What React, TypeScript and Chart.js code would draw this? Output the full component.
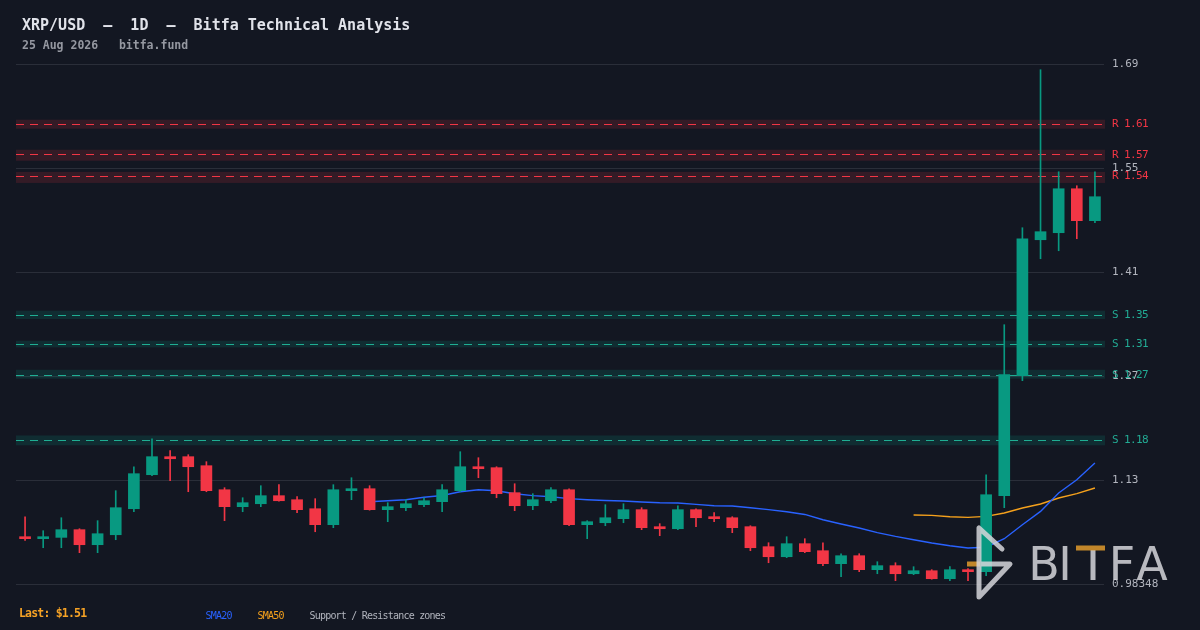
import { useEffect, useRef } from "react";
import { Chart, registerables } from "chart.js";

Chart.register(...registerables);

// ---------- DATA ----------
const CATEGORIES = [
  "Jun 27", "Jun 28", "Jun 29", "Jun 30",
  "Jul 1", "Jul 2", "Jul 3", "Jul 4", "Jul 5", "Jul 6", "Jul 7", "Jul 8", "Jul 9", "Jul 10",
  "Jul 11", "Jul 12", "Jul 13", "Jul 14", "Jul 15", "Jul 16", "Jul 17", "Jul 18", "Jul 19", "Jul 20",
  "Jul 21", "Jul 22", "Jul 23", "Jul 24", "Jul 25", "Jul 26", "Jul 27", "Jul 28", "Jul 29", "Jul 30", "Jul 31",
  "Aug 1", "Aug 2", "Aug 3", "Aug 4", "Aug 5", "Aug 6", "Aug 7", "Aug 8", "Aug 9", "Aug 10",
  "Aug 11", "Aug 12", "Aug 13", "Aug 14", "Aug 15", "Aug 16", "Aug 17", "Aug 18", "Aug 19", "Aug 20",
  "Aug 21", "Aug 22", "Aug 23", "Aug 24", "Aug 25",
];

const OPEN = [
  1.0480, 1.0453, 1.0471, 1.0576, 1.0371, 1.0507, 1.0862, 1.1326, 1.1572, 1.1572,
  1.1449, 1.1121, 1.0890, 1.0930, 1.1040, 1.0985, 1.0862, 1.0644, 1.1108, 1.1135,
  1.0849, 1.0876, 1.0917, 1.0958, 1.1108, 1.1435, 1.1422, 1.1081, 1.0903, 1.0971,
  1.1121, 1.0644, 1.0671, 1.0726, 1.0849, 1.0617, 1.0589, 1.0849, 1.0753, 1.0739,
  1.0617, 1.0344, 1.0207, 1.0385, 1.0289, 1.0112, 1.0221, 1.0030, 1.0085, 0.9975,
  1.0016, 0.9907, 1.0030, 1.0003, 1.1040, 1.2677, 1.4532, 1.4628, 1.5228, 1.4792,
];
const HIGH = [
  1.0753, 1.0562, 1.0739, 1.0589, 1.0699, 1.1108, 1.1435, 1.1817, 1.1654, 1.1599,
  1.1504, 1.1149, 1.1012, 1.1176, 1.1190, 1.1026, 1.0999, 1.1190, 1.1285, 1.1176,
  1.0944, 1.0985, 1.1012, 1.1190, 1.1640, 1.1558, 1.1435, 1.1203, 1.1067, 1.1149,
  1.1135, 1.0699, 1.0917, 1.0930, 1.0876, 1.0658, 1.0903, 1.0862, 1.0808, 1.0753,
  1.0630, 1.0398, 1.0480, 1.0453, 1.0398, 1.0248, 1.0248, 1.0139, 1.0125, 1.0071,
  1.0030, 1.0071, 1.0044, 1.1326, 1.3373, 1.4696, 1.6852, 1.5460, 1.5269, 1.5460,
];
const LOW = [
  1.0430, 1.0330, 1.0330, 1.0262, 1.0262, 1.0439, 1.0821, 1.1312, 1.1244, 1.1094,
  1.1094, 1.0699, 1.0821, 1.0890, 1.0965, 1.0808, 1.0548, 1.0603, 1.0985, 1.0842,
  1.0685, 1.0835, 1.0890, 1.0821, 1.1094, 1.1285, 1.1012, 1.0835, 1.0849, 1.0944,
  1.0630, 1.0453, 1.0630, 1.0671, 1.0576, 1.0494, 1.0576, 1.0617, 1.0685, 1.0535,
  1.0289, 1.0125, 1.0194, 1.0262, 1.0085, 0.9934, 1.0003, 0.9975, 0.9880, 0.9962,
  0.9900, 0.9880, 0.9880, 0.9948, 1.0876, 1.2609, 1.4273, 1.4382, 1.4546, 1.4764,
];
const CLOSE = [
  1.0453, 1.0480, 1.0576, 1.0371, 1.0521, 1.0876, 1.1340, 1.1572, 1.1544, 1.1435,
  1.1108, 1.0890, 1.0944, 1.1040, 1.0971, 1.0849, 1.0644, 1.1121, 1.1135, 1.0849,
  1.0890, 1.0930, 1.0971, 1.1121, 1.1435, 1.1408, 1.1067, 1.0903, 1.0985, 1.1121,
  1.0644, 1.0685, 1.0739, 1.0849, 1.0603, 1.0589, 1.0849, 1.0739, 1.0726, 1.0603,
  1.0330, 1.0207, 1.0385, 1.0276, 1.0112, 1.0221, 1.0030, 1.0085, 0.9975, 1.0016,
  0.9907, 1.0030, 1.0003, 1.1053, 1.2691, 1.4546, 1.4642, 1.5228, 1.4792, 1.5119,
];

// SMA20 starts at candle index 19, SMA50 at candle index 49
const SMA20_START = 19;
const SMA20 = [
  1.0958, 1.0971, 1.0985, 1.1019, 1.1043, 1.1094, 1.1121, 1.1108, 1.1067, 1.1040,
  1.1026, 1.0999, 1.0985, 1.0975, 1.0967, 1.0954, 1.0944, 1.0940, 1.0921, 1.0903,
  1.0899, 1.0876, 1.0849, 1.0821, 1.0784, 1.0712, 1.0653, 1.0599, 1.0535, 1.0484,
  1.0439, 1.0394, 1.0357, 1.0326, 1.0337, 1.0453, 1.0644, 1.0825, 1.1077, 1.1258, 1.1486,
];
const SMA50_START = 49;
const SMA50 = [1.0777, 1.0771, 1.0753, 1.0744, 1.0758, 1.0803, 1.0872, 1.0926, 1.1008, 1.1067, 1.1145];

const ZONE_KIND = ["R", "R", "R", "S", "S", "S", "S"];
const ZONE_LEVEL = [1.6115, 1.5697, 1.5402, 1.3509, 1.3114, 1.2691, 1.1804];
const ZONE_LOW = [1.6047, 1.5610, 1.5307, 1.3450, 1.3063, 1.2636, 1.1727];
const ZONE_HIGH = [1.6170, 1.5760, 1.5458, 1.3564, 1.3154, 1.2758, 1.1862];

const Y_MIN = 0.98348;
const Y_MAX = 1.693;
const TICK_LABELS = ["0.98348", "1.13", "1.27", "1.41", "1.55", "1.69"];

const TITLE = "XRP/USD  —  1D  —  Bitfa Technical Analysis";
const SUBTITLE = "25 Aug 2026   bitfa.fund";
const LEGEND_LABELS = ["SMA20", "SMA50", "Support / Resistance zones"];

// ---------- STYLE ----------
const BG = "#131722";
const UP = "#089981";
const DOWN = "#f23645";
const BLUE = "#2962ff";
const ORANGE = "#f5a11c";
const MONO = "'DejaVu Sans Mono', monospace";

function drawLogo(ctx: CanvasRenderingContext2D) {
  ctx.save();
  ctx.globalAlpha = 0.85;
  ctx.strokeStyle = "#e09a2c";
  ctx.lineWidth = 5;
  ctx.lineCap = "butt";
  ctx.beginPath();
  ctx.moveTo(967, 564);
  ctx.lineTo(980, 564);
  ctx.stroke();
  ctx.strokeStyle = "#d6d6da";
  ctx.lineCap = "round";
  ctx.lineJoin = "round";
  ctx.beginPath();
  ctx.moveTo(1002, 549);
  ctx.lineTo(979, 528);
  ctx.lineTo(979, 597);
  ctx.lineTo(1010, 564);
  ctx.lineTo(980, 564);
  ctx.stroke();
  ctx.fillStyle = "#d6d6da";
  ctx.font = "46px 'DejaVu Sans'";
  ctx.textAlign = "center";
  ctx.textBaseline = "alphabetic";
  const letters: [string, number][] = [["B", 1044], ["I", 1065], ["F", 1122], ["A", 1152]];
  letters.forEach(([ch, x]) => ctx.fillText(ch, x, 580));
  ctx.fillRect(1090.5, 550, 5, 30);
  ctx.fillStyle = "#e09a2c";
  ctx.fillRect(1076, 545.5, 29, 5);
  ctx.restore();
}

const overlayPlugin = {
  id: "overlay",
  beforeDatasetsDraw(chart: any) {
    const { ctx, chartArea: a, scales } = chart;
    const y = scales.y;
    ctx.save();
    ZONE_LEVEL.forEach((lvl, i) => {
      const isR = ZONE_KIND[i] === "R";
      const yt = y.getPixelForValue(ZONE_HIGH[i]);
      const yb = y.getPixelForValue(ZONE_LOW[i]);
      ctx.fillStyle = isR ? "rgba(242,54,69,0.15)" : "rgba(8,153,129,0.17)";
      ctx.fillRect(a.left, yt, a.right - a.left + 1, yb - yt);
      const yl = Math.round(y.getPixelForValue(lvl)) + 0.5;
      ctx.strokeStyle = isR ? DOWN : "#1fae93";
      ctx.lineWidth = 1;
      ctx.setLineDash([8, 6]);
      ctx.beginPath();
      ctx.moveTo(a.left, yl);
      ctx.lineTo(a.right, yl);
      ctx.stroke();
    });
    ctx.restore();
  },
  afterDatasetsDraw(chart: any) {
    drawLogo(chart.ctx);
  },
  afterDraw(chart: any) {
    const { ctx, chartArea: a, scales } = chart;
    const y = scales.y;
    ctx.save();
    ctx.font = `11px ${MONO}`;
    ctx.textAlign = "left";
    ctx.textBaseline = "middle";
    (ctx as any).letterSpacing = "-0.6px";
    ZONE_LEVEL.forEach((lvl, i) => {
      const isR = ZONE_KIND[i] === "R";
      ctx.fillStyle = isR ? DOWN : "#22ab94";
      ctx.fillText(`${ZONE_KIND[i]} ${lvl.toFixed(2)}`, a.right + 8, y.getPixelForValue(lvl) + 0.5);
    });
    (ctx as any).letterSpacing = "0px";
    ctx.textBaseline = "alphabetic";
    ctx.fillStyle = "#e1e3ea";
    ctx.font = `bold 15px ${MONO}`;
    ctx.fillText(TITLE, 22, 29.5);
    ctx.fillStyle = "#9598a1";
    ctx.font = `bold 11.5px ${MONO}`;
    ctx.fillText(SUBTITLE, 22, 49);
    ctx.fillStyle = "#f7a325";
    ctx.font = `bold 11.5px ${MONO}`;
    (ctx as any).letterSpacing = "-0.8px";
    ctx.fillText(`Last: $${CLOSE[CLOSE.length - 1].toFixed(2)}`, 19, 617);
    ctx.font = `10px ${MONO}`;
    (ctx as any).letterSpacing = "-0.8px";
    const legendX = [205.5, 257.5, 309.5];
    const legendC = [BLUE, ORANGE, "#b2b5be"];
    LEGEND_LABELS.forEach((t, i) => {
      ctx.fillStyle = legendC[i];
      ctx.fillText(t, legendX[i], 619);
    });
    (ctx as any).letterSpacing = "0px";
    ctx.restore();
  },
};

export default function App() {
  const ref = useRef<HTMLCanvasElement | null>(null);

  useEffect(() => {
    if (!ref.current) return;
    const colors = CATEGORIES.map((_, i) => (CLOSE[i] >= OPEN[i] ? UP : DOWN));
    const chart = new Chart(ref.current, {
      type: "bar",
      data: {
        labels: CATEGORIES,
        datasets: [
          {
            type: "bar",
            label: "Body",
            data: CATEGORIES.map((_, i) => [OPEN[i], CLOSE[i]]) as any,
            backgroundColor: colors,
            barThickness: 11,
            minBarLength: 2,
            grouped: false,
            order: 0,
          } as any,
          {
            type: "bar",
            label: "Wick",
            data: CATEGORIES.map((_, i) => [LOW[i], HIGH[i]]) as any,
            backgroundColor: colors,
            barThickness: 1,
            grouped: false,
            order: 1,
          } as any,
          {
            type: "line",
            label: "SMA20",
            data: CATEGORIES.map((_, i) => (i < SMA20_START ? null : SMA20[i - SMA20_START])),
            borderColor: BLUE,
            borderWidth: 1.4,
            pointRadius: 0,
            tension: 0,
            order: 2,
          } as any,
          {
            type: "line",
            label: "SMA50",
            data: CATEGORIES.map((_, i) => (i < SMA50_START ? null : SMA50[i - SMA50_START])),
            borderColor: ORANGE,
            borderWidth: 1.4,
            pointRadius: 0,
            tension: 0,
            order: 3,
          } as any,
        ],
      },
      options: {
        responsive: false,
        animation: false,
        layout: { padding: { left: 16, top: 64, right: 0, bottom: 46 } },
        plugins: { legend: { display: false }, tooltip: { enabled: false } },
        scales: {
          x: { display: false, offset: true },
          y: {
            position: "right",
            min: Y_MIN,
            max: Y_MAX,
            afterBuildTicks: (s: any) => {
              s.ticks = TICK_LABELS.map((_, k) => ({
                value: Y_MIN + (k * (Y_MAX - Y_MIN)) / (TICK_LABELS.length - 1),
              }));
            },
            afterFit: (s: any) => {
              s.width = 96;
            },
            grid: { color: "#2a2e39", drawTicks: false, lineWidth: 1 },
            border: { display: false },
            ticks: {
              color: "#b2b5be",
              padding: 8,
              font: { family: "'DejaVu Sans Mono'", size: 11 },
              callback: (_v: any, i: number) => TICK_LABELS[i],
            },
          },
        },
      } as any,
      plugins: [overlayPlugin],
    });
    return () => chart.destroy();
  }, []);

  return (
    <div style={{ position: "fixed", left: 0, top: 0, width: 1200, height: 630, background: BG }}>
      <canvas ref={ref} width={1200} height={630} style={{ display: "block", width: 1200, height: 630 }} />
    </div>
  );
}
